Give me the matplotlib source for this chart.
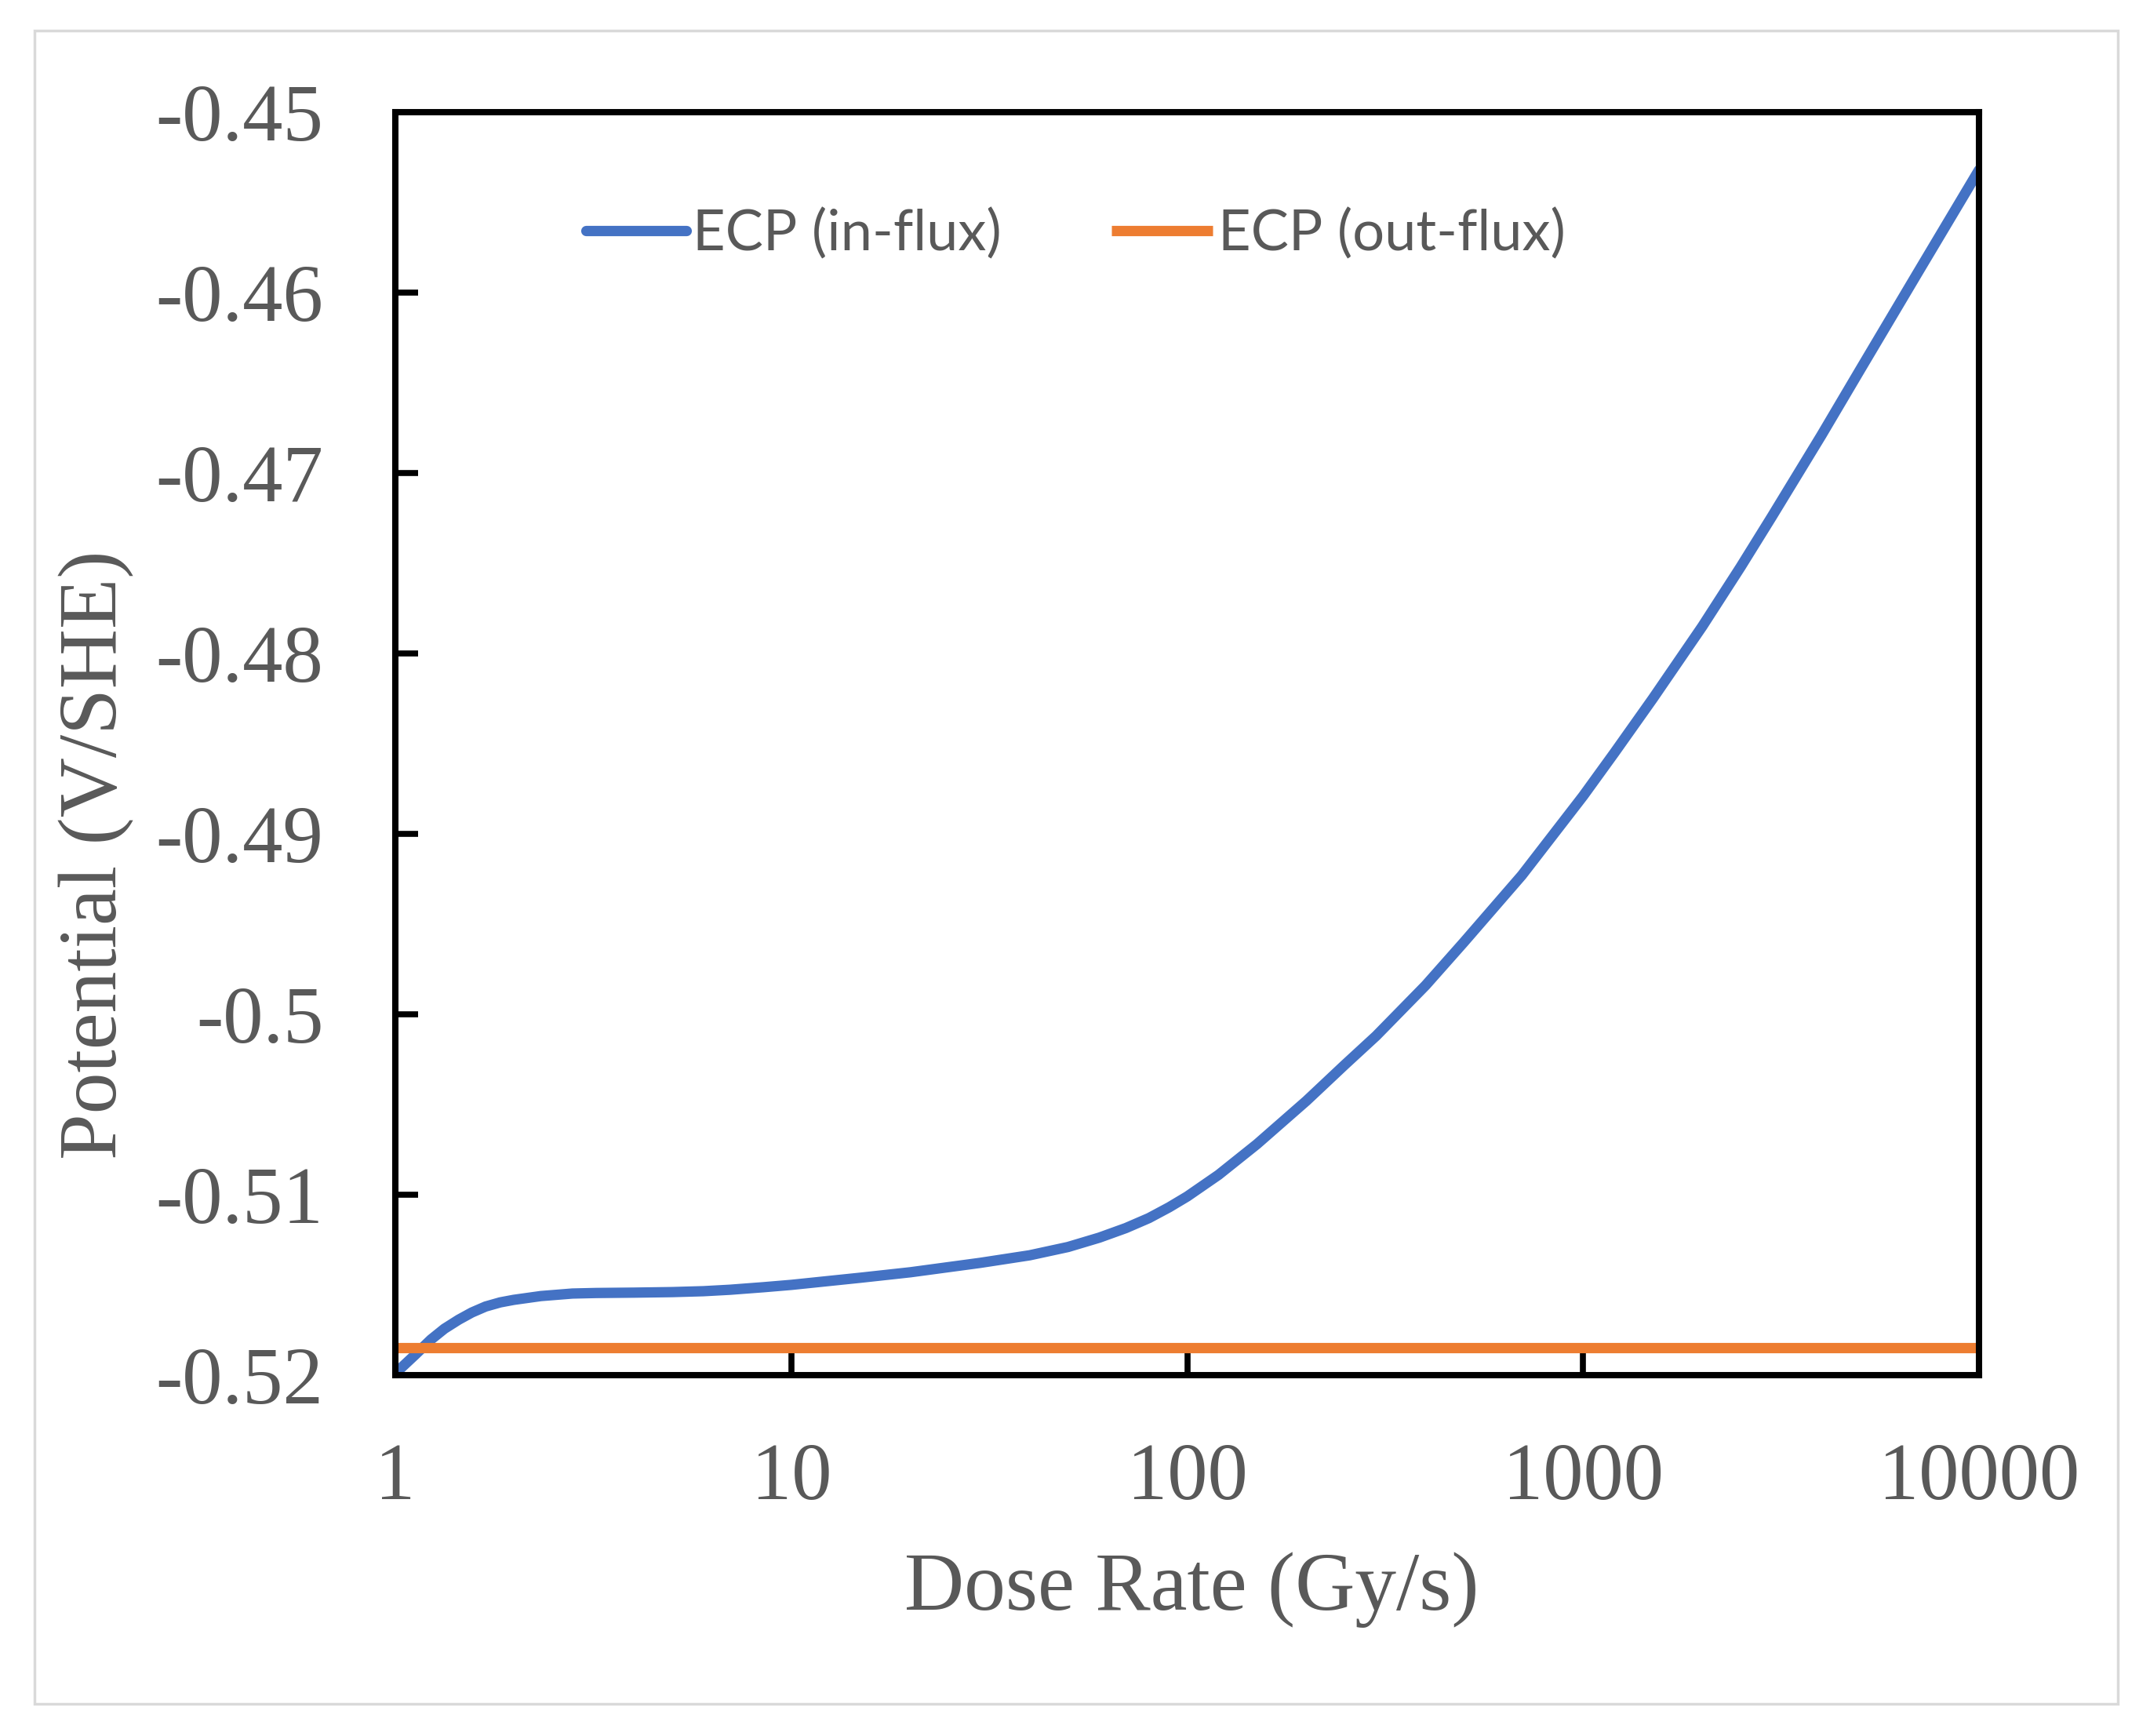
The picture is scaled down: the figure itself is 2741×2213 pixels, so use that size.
import numpy as np
import matplotlib
matplotlib.use('Agg')
import matplotlib.pyplot as plt
from matplotlib.patches import Rectangle

# dose rate (Gy/s) and ECP readings (V/SHE) taken from the figure
dose_rate = [1, 1.12, 1.23, 1.33, 1.445, 1.56, 1.69, 1.84, 1.99, 2.33, 2.8, 3.21,
             4, 5, 6, 7, 8.5, 10, 15, 20, 30, 40, 50, 60, 70, 80, 90, 100, 120,
             150, 200, 250, 300, 400, 500, 700, 1000, 1200, 1500, 2000, 2500,
             3000, 4000, 5000, 7000, 10000]
ecp_in_flux = [-0.5199, -0.51889, -0.51803, -0.51743, -0.51693, -0.51653,
               -0.51620, -0.51597, -0.51583, -0.51562, -0.51548, -0.51545,
               -0.51543, -0.51540, -0.51535, -0.51527, -0.51513, -0.5150,
               -0.5146, -0.5143, -0.51378, -0.51336, -0.5129, -0.51238,
               -0.51185, -0.5113, -0.5107, -0.5101, -0.5089, -0.5072, -0.5048,
               -0.5028, -0.5012, -0.4984, -0.4960, -0.4923, -0.4879, -0.4855,
               -0.4825, -0.4785, -0.4752, -0.4724, -0.4679, -0.4643, -0.4589,
               -0.4532]
out_flux_rate = [1, 10000]
ecp_out_flux = [-0.5185, -0.5185]

x_ticks = [1, 10, 100, 1000, 10000]
x_tick_labels = ['1', '10', '100', '1000', '10000']
y_ticks = [-0.52, -0.51, -0.50, -0.49, -0.48, -0.47, -0.46, -0.45]
y_tick_labels = ['-0.52', '-0.51', '-0.5', '-0.49', '-0.48', '-0.47', '-0.46', '-0.45']

serif = ['Liberation Serif', 'DejaVu Serif']
sans = ['Lato', 'DejaVu Sans']
grey = '#595959'

fig = plt.figure(figsize=(27.41, 22.13), dpi=100)
ax = fig.add_axes([0.1839, 0.2079, 0.9205 - 0.1839, 0.9354 - 0.2079])

ax.plot(dose_rate, ecp_in_flux, color='#4472C4', lw=9.5, solid_capstyle='round',
        solid_joinstyle='round', label='ECP (in-flux)')
ax.plot(out_flux_rate, ecp_out_flux, color='#ED7D31', lw=9.5, solid_capstyle='butt',
        label='ECP (out-flux)')

ax.set_xscale('log')
ax.set_xlim(1, 10000)
ax.set_ylim(-0.52, -0.45)
ax.set_xticks(x_ticks)
ax.set_xticklabels(x_tick_labels)
ax.set_yticks(y_ticks)
ax.set_yticklabels(y_tick_labels)
ax.minorticks_off()

ax.tick_params(axis='both', direction='in', length=21, width=5.5, color='black',
               labelcolor=grey, labelsize=74)
ax.tick_params(axis='x', pad=62)
ax.tick_params(axis='y', pad=66)
for lab in ax.get_xticklabels() + ax.get_yticklabels():
    lab.set_family(serif)

for sp in ax.spines.values():
    sp.set_linewidth(5.8)
    sp.set_color('black')

ax.set_xlabel('Dose Rate (Gy/s)', family=serif, fontsize=76, color=grey)
ax.set_ylabel('Potential (V/SHE)', family=serif, fontsize=76, color=grey)
ax.xaxis.set_label_coords(0.503, -0.14)
ax.yaxis.set_label_coords(-0.165, 0.412)

leg = ax.legend(loc='center left', bbox_to_anchor=(0.2725, 1 - 298 / 2213),
                bbox_transform=fig.transFigure, ncol=2, frameon=False,
                borderpad=0, borderaxespad=0, handlelength=1.78,
                handletextpad=0.1, columnspacing=1.95,
                prop={'family': sans, 'size': 52})
for t in leg.get_texts():
    t.set_color(grey)

# light grey frame around the whole picture
fig.patches.append(Rectangle((44 / 2741, 1 - 2172 / 2213), (2700 - 44) / 2741,
                             (2172 - 39) / 2213, transform=fig.transFigure,
                             fill=False, edgecolor='#d9d9d9', lw=2.5))

fig.savefig('out.png', dpi=100)
